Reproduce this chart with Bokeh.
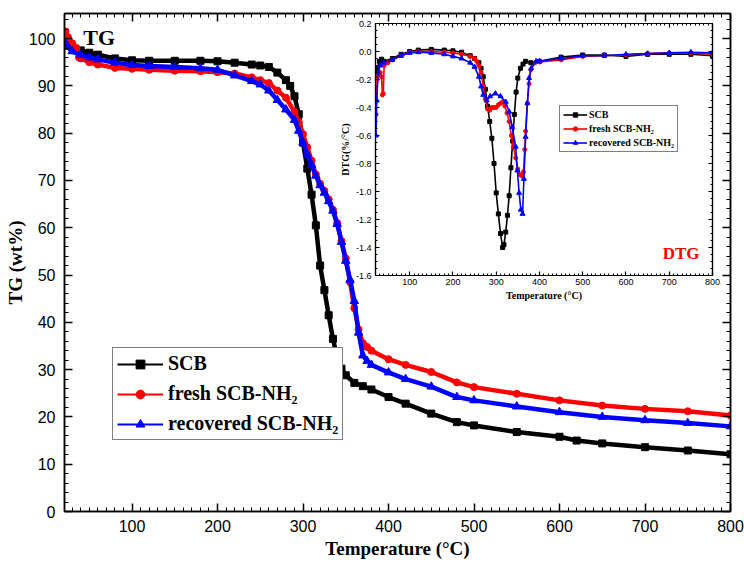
from bokeh.plotting import figure
from bokeh.models import (Range1d, LinearAxis, SingleIntervalTicker, Legend, LegendItem, Label,
                          CustomJSTickFormatter, PrintfTickFormatter)
from bokeh.layouts import column
from bokeh.embed import file_html
from bokeh.resources import INLINE

SERIF = "Liberation Serif"
SANS = "Liberation Sans"

# ---------------- TG data ----------------
T_scb = [22, 25, 30, 40, 50, 60, 80, 100, 120, 150, 180, 200, 220, 240, 250, 260, 270, 280, 285, 290,
         295, 300, 305, 310, 315, 320, 325, 330, 335, 340, 345, 350, 360, 370, 380, 400, 420, 450, 480, 500,
         550, 600, 620, 650, 700, 750, 800]
TG_scb = [100.3, 99.0, 98.2, 97.5, 97.0, 96.6, 95.8, 95.4, 95.3, 95.3, 95.3, 95.2, 94.9, 94.5, 94.3, 94.0, 92.8, 91.2, 90.0, 87.8,
          84.0, 78.0, 72.5, 67.0, 60.5, 52.0, 46.8, 41.5, 36.5, 32.5, 30.2, 28.8, 27.2, 26.5, 25.8, 24.2, 22.8, 20.7, 18.9, 18.2,
          16.8, 15.8, 15.0, 14.4, 13.6, 12.9, 12.1]

T_fresh = [22, 25, 30, 35, 38, 40, 50, 60, 80, 100, 120, 150, 180, 200, 220, 240, 250, 260, 270, 280,
           290, 295, 300, 305, 310, 315, 320, 325, 330, 335, 340, 345, 350, 355, 360, 365, 370, 375, 380, 400,
           420, 450, 480, 500, 550, 600, 650, 700, 750, 800]
TG_fresh = [101.5, 100.3, 99.0, 98.0, 96.0, 95.8, 95.0, 94.5, 93.8, 93.6, 93.4, 93.2, 93.1, 92.9, 92.6, 91.8, 91.2, 90.6, 89.0, 87.5,
            84.5, 82.3, 79.8, 77.0, 74.2, 71.3, 69.3, 67.8, 66.0, 63.8, 61.0, 57.2, 53.5, 48.5, 43.0, 38.5, 35.6, 34.8, 34.0, 32.2,
            31.0, 29.5, 27.3, 26.3, 24.9, 23.5, 22.4, 21.7, 21.2, 20.3]

T_rec = [22, 25, 30, 40, 50, 60, 80, 100, 120, 150, 180, 200, 220, 240, 250, 260, 270, 280, 290, 295,
         300, 305, 310, 315, 320, 325, 330, 335, 340, 345, 350, 355, 360, 365, 370, 375, 380, 400, 420, 450,
         480, 500, 550, 600, 650, 700, 750, 800]
TG_rec = [99.0, 98.2, 97.3, 96.5, 96.0, 95.6, 94.9, 94.4, 94.2, 94.0, 93.7, 93.4, 92.2, 91.0, 90.3, 89.0, 87.0, 85.0, 82.8, 80.5,
          78.0, 75.5, 73.3, 71.0, 69.0, 67.4, 65.6, 63.6, 60.8, 57.0, 53.0, 49.0, 44.5, 37.8, 33.0, 31.8, 31.0, 29.4, 28.0, 26.4,
          24.2, 23.5, 22.2, 21.0, 20.0, 19.3, 18.7, 18.0]

# ---------------- DTG data ----------------
Td_scb = [22, 25, 30, 35, 40, 60, 80, 100, 120, 150, 180, 200, 220, 240, 250, 260, 265, 270, 275, 280,
          285, 290, 295, 300, 305, 310, 315, 318, 322, 326, 330, 334, 338, 342, 346, 350, 356, 362, 368, 380,
          400, 450, 500, 550, 600, 650, 700, 750, 800]
D_scb = [-0.18, -0.12, -0.07, -0.055, -0.07, -0.05, -0.02, 0.0, 0.01, 0.015, 0.01, 0.005, -0.005, -0.03, -0.05, -0.08, -0.12, -0.18, -0.27, -0.39,
         -0.50, -0.62, -0.80, -1.01, -1.16, -1.30, -1.40, -1.38, -1.29, -1.17, -1.03, -0.83, -0.64, -0.45, -0.29, -0.19, -0.12, -0.09, -0.07, -0.08,
         -0.07, -0.04, -0.025, -0.025, -0.035, -0.02, -0.02, -0.02, -0.03]

Td_fresh = [22, 25, 28, 32, 35, 37, 39, 41, 50, 60, 80, 100, 120, 150, 180, 200, 220, 240, 250, 255,
            260, 265, 270, 275, 280, 285, 290, 295, 300, 305, 310, 315, 320, 325, 330, 335, 340, 345, 350, 355,
            360, 363, 366, 368, 372, 376, 380, 390, 400, 450, 500, 550, 600, 650, 700, 750, 800]
D_fresh = [-0.45, -0.20, -0.17, -0.15, -0.18, -0.31, -0.30, -0.10, -0.08, -0.06, -0.03, -0.005, 0.0, 0.0, -0.005, -0.01, -0.02, -0.035, -0.05, -0.07,
           -0.10, -0.15, -0.25, -0.34, -0.41, -0.42, -0.40, -0.40, -0.40, -0.38, -0.37, -0.36, -0.39, -0.44, -0.50, -0.60, -0.68, -0.76, -0.84, -0.88,
           -0.89, -0.86, -0.70, -0.57, -0.37, -0.23, -0.13, -0.08, -0.075, -0.06, -0.035, -0.03, -0.025, -0.015, -0.01, -0.01, -0.02]

Td_rec = [22, 24, 27, 32, 40, 60, 80, 100, 120, 150, 180, 200, 220, 240, 250, 260, 265, 270, 278, 286,
          298, 310, 322, 330, 337, 345, 349, 353, 357, 361, 364, 368, 372, 376, 381, 392, 400, 450, 500, 550,
          600, 650, 700, 750, 800]
D_rec = [-0.60, -0.35, -0.15, -0.10, -0.08, -0.06, -0.03, -0.01, -0.005, -0.01, -0.02, -0.035, -0.05, -0.08, -0.11, -0.18, -0.25, -0.31, -0.35, -0.32,
         -0.30, -0.32, -0.36, -0.43, -0.54, -0.68, -0.85, -1.01, -1.13, -1.16, -0.91, -0.61, -0.37, -0.19, -0.12, -0.07, -0.07, -0.05, -0.03, -0.03,
         -0.02, -0.015, -0.01, -0.005, -0.01]

labels = ["SCB", "fresh SCB-NH\u2082", "recovered SCB-NH\u2082"]
colors = ["black", "#ff0000", "#0000ff"]
markers = ["square", "circle", "triangle"]


def style_axis(ax, font_size, tick_in, minor_in, width):
    ax.axis_line_width = width
    ax.major_tick_line_width = width
    ax.minor_tick_line_width = 1
    ax.major_tick_in = tick_in
    ax.major_tick_out = 0
    ax.minor_tick_in = minor_in
    ax.minor_tick_out = 0
    ax.major_label_text_font = SANS
    ax.major_label_text_color = "black"
    ax.major_label_text_font_size = font_size


def mirror_axis(interval, minor, tick_in, minor_in, width):
    ax = LinearAxis(ticker=SingleIntervalTicker(interval=interval, num_minor_ticks=minor),
                    formatter=CustomJSTickFormatter(code="return ''"))
    style_axis(ax, "1px", tick_in, minor_in, width)
    ax.major_label_standoff = 0
    return ax


# ---------------- main figure ----------------
p = figure(frame_width=666, frame_height=498, x_range=Range1d(21, 800), y_range=Range1d(0, 105.3),
           output_backend="svg", toolbar_location=None,
           min_border_left=64, min_border_right=14, min_border_top=13, min_border_bottom=0,
           background_fill_color="white", border_fill_color="white")
p.grid.visible = False
p.outline_line_color = "black"
p.outline_line_width = 1.5

p.xaxis.ticker = SingleIntervalTicker(interval=100, num_minor_ticks=10)
p.yaxis.ticker = SingleIntervalTicker(interval=10, num_minor_ticks=5)
style_axis(p.xaxis[0], "16px", 8, 4, 1.5)
style_axis(p.yaxis[0], "16px", 8, 4, 1.5)
p.xaxis.major_label_standoff = 8
p.yaxis.major_label_standoff = 9
p.xaxis.axis_label = "Temperature (\u00b0C)"
p.yaxis.axis_label = "TG (wt%)"
for ax in (p.xaxis[0], p.yaxis[0]):
    ax.axis_label_text_font = SERIF
    ax.axis_label_text_font_style = "bold"
    ax.axis_label_text_font_size = "19px"
    ax.axis_label_text_color = "black"
p.xaxis.axis_label_standoff = 3
p.yaxis.axis_label_standoff = 0

p.add_layout(mirror_axis(100, 10, 8, 4, 1.5), "above")
p.add_layout(mirror_axis(10, 5, 8, 4, 1.5), "right")

main_series = [(T_scb, TG_scb), (T_fresh, TG_fresh), (T_rec, TG_rec)]
items = []
for (xs, ys), lab, c, m in zip(main_series, labels, colors, markers):
    p.line(xs, ys, line_color=c, line_width=4.5)
    p.scatter(xs, ys, marker=m, size=7 if m != "triangle" else 8.5, fill_color=c, line_color=c)
    lg_line = p.line(xs[:1], ys[:1], line_color=c, line_width=2)
    lg_mark = p.scatter(xs[:1], ys[:1], marker=m, size=7, fill_color=c, line_color=c)
    items.append(LegendItem(label=lab, renderers=[lg_line, lg_mark]))

leg = Legend(items=items, location=(48, 71), border_line_color="black", border_line_width=1,
             background_fill_color="white", background_fill_alpha=1,
             label_text_font=SERIF, label_text_font_style="bold", label_text_font_size="20px",
             label_text_color="black", glyph_width=46, glyph_height=22, label_height=22,
             spacing=7, padding=4, margin=0, label_standoff=5)
p.add_layout(leg)

p.add_layout(Label(x=43, y=100.2, text="TG", text_font=SERIF, text_font_style="bold",
                   text_font_size="22px", text_color="black", text_baseline="alphabetic"))

# ---------------- inset (DTG) ----------------
q = figure(frame_width=337, frame_height=252, x_range=Range1d(21, 800), y_range=Range1d(-1.6, 0.2),
           output_backend="svg", toolbar_location=None,
           min_border_left=64, min_border_right=14, min_border_top=9, min_border_bottom=0,
           background_fill_color="white", border_fill_alpha=0)
q.grid.visible = False
q.outline_line_color = "black"
q.outline_line_width = 1.2
q.xaxis.ticker = SingleIntervalTicker(interval=100, num_minor_ticks=10)
q.yaxis.ticker = SingleIntervalTicker(interval=0.2, num_minor_ticks=4)
q.yaxis.formatter = PrintfTickFormatter(format="%.1f")
style_axis(q.xaxis[0], "9px", 4, 2, 1.2)
style_axis(q.yaxis[0], "9px", 4, 2, 1.2)
q.xaxis.major_label_standoff = 3
q.yaxis.major_label_standoff = 4
q.xaxis.axis_label = "Temperature (\u00b0C)"
q.yaxis.axis_label = "DTG(%/\u00b0C)"
for ax in (q.xaxis[0], q.yaxis[0]):
    ax.axis_label_text_font = SERIF
    ax.axis_label_text_font_style = "bold"
    ax.axis_label_text_font_size = "10px"
    ax.axis_label_text_color = "black"
    ax.axis_label_standoff = 2
q.add_layout(mirror_axis(100, 10, 4, 2, 1.2), "above")
q.add_layout(mirror_axis(0.2, 4, 4, 2, 1.2), "right")

dtg_series = [(Td_scb, D_scb), (Td_fresh, D_fresh), (Td_rec, D_rec)]
qitems = []
for (xs, ys), lab, c, m in zip(dtg_series, labels, colors, markers):
    q.line(xs, ys, line_color=c, line_width=1.6)
    q.scatter(xs, ys, marker=m, size=4 if m != "triangle" else 5, fill_color=c, line_color=c)
    lg_line = q.line(xs[:1], ys[:1], line_color=c, line_width=1.6)
    lg_mark = q.scatter(xs[:1], ys[:1], marker=m, size=4, fill_color=c, line_color=c)
    qitems.append(LegendItem(label=lab, renderers=[lg_line, lg_mark]))

qleg = Legend(items=qitems, location=(184, 123), border_line_color="black", border_line_width=1,
              background_fill_color="white", background_fill_alpha=1,
              label_text_font=SERIF, label_text_font_style="bold", label_text_font_size="10px",
              label_text_color="black", glyph_width=24, glyph_height=11, label_height=11,
              spacing=3, padding=3, margin=0, label_standoff=2)
q.add_layout(qleg)

q.add_layout(Label(x=685, y=-1.44, text="DTG", text_font=SERIF, text_font_style="bold",
                   text_font_size="17px", text_color="#ff0000", text_baseline="alphabetic"))

q.styles = {"position": "absolute", "left": "311px", "top": "14px"}
root = column(p, q, styles={"position": "relative"})

open("out.html", "w").write(file_html(root, INLINE))
